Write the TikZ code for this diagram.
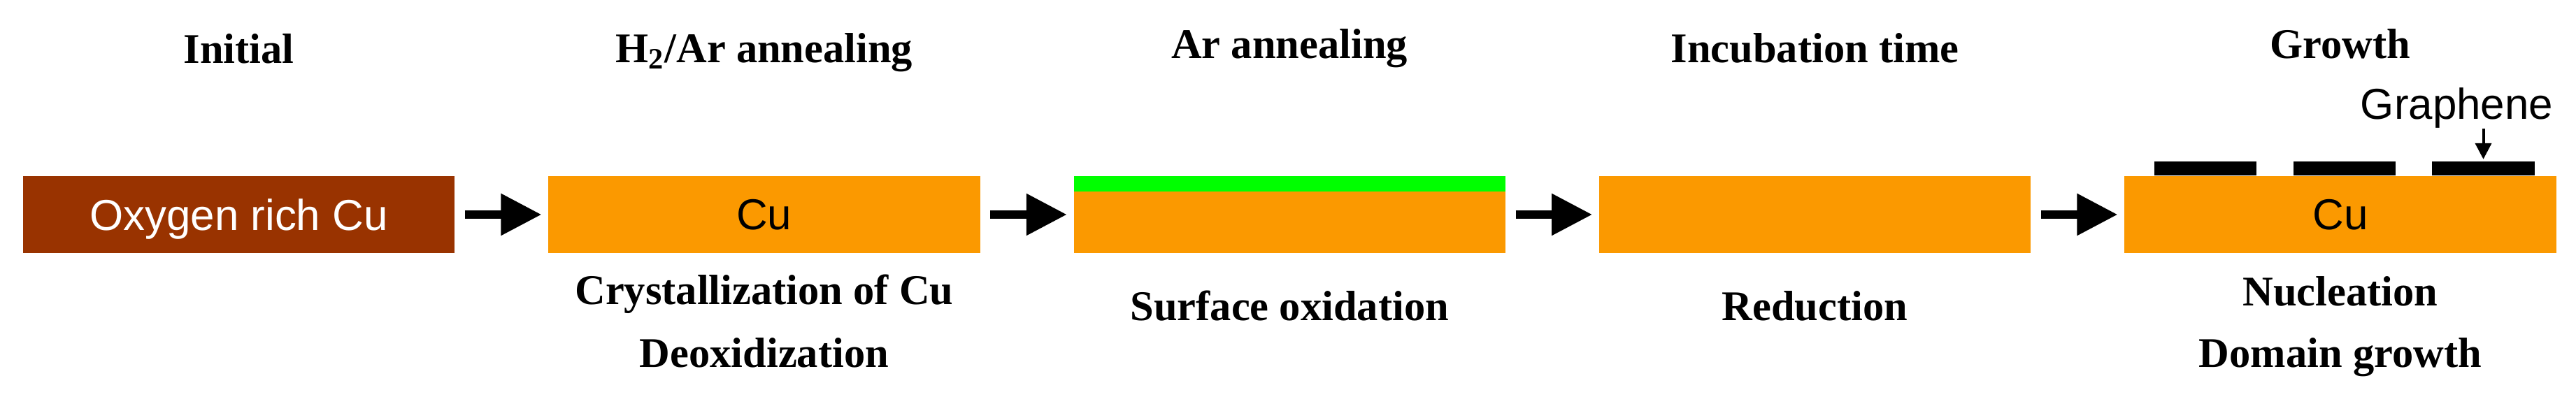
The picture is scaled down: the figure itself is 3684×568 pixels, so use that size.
\documentclass[tikz,border=0pt]{standalone}
\usepackage{fontspec}
\setmainfont{Liberation Serif}
\setsansfont{Liberation Sans}
\usetikzlibrary{arrows.meta,positioning}
\definecolor{oxrich}{RGB}{153,51,0}
\definecolor{copper}{RGB}{251,153,0}
\definecolor{oxide}{RGB}{0,255,0}

\begin{document}
\begin{tikzpicture}[x=0.01cm, y=0.01cm,
    foil/.style={rectangle, fill=copper, minimum width=6.17cm, minimum height=1.1cm, inner sep=0pt, text depth=0pt, font=\sffamily\fontsize{17.6}{20}\selectfont},
    stage/.style={inner sep=0pt, font=\bfseries\fontsize{17.2}{20}\selectfont},
    flow/.style={line width=0.12cm, -{Triangle[length=0.58cm, width=0.57cm]}, shorten <=0.14cm, shorten >=0.09cm},
    flake/.style={rectangle, fill=black, minimum width=1.46cm, minimum height=0.2cm, inner sep=0pt, anchor=south}]
  \useasboundingbox (0,0) rectangle (3684,568);
  % substrates
  \node[foil, fill=oxrich, text=white] (b1) at (341.5,261) {Oxygen rich Cu};
  \node[foil, right=1.325cm of b1] (b2) {Cu};
  \node[foil, right=1.325cm of b2] (b3) {};
  \node[foil, right=1.325cm of b3] (b4) {};
  \node[foil, right=1.325cm of b4] (b5) {Cu};
  \node[rectangle, fill=oxide, minimum width=6.17cm, minimum height=0.22cm, inner sep=0pt, anchor=north] (ox) at (b3.north) {};
  % graphene domains
  \node[flake] (g1) at ([xshift=-1.925cm]b5.north) {};
  \node[flake] (g2) at ([xshift=0.06cm]b5.north) {};
  \node[flake] (g3) at ([xshift=2.045cm]b5.north) {};
  \node[inner sep=0pt, font=\sffamily\fontsize{17.6}{20}\selectfont, above=0.59cm of g3.north, xshift=-0.38cm, anchor=base] (gl) {Graphene};
  \draw[line width=0.04cm, -{Triangle[length=0.23cm, width=0.23cm]}, shorten >=0.02cm] (gl.south -| g3.north) -- (g3.north);
  % steps
  \draw[flow] (b1) -- (b2);
  \draw[flow] (b2) -- (b3);
  \draw[flow] (b3) -- (b4);
  \draw[flow] (b4) -- (b5);
  % titles
  \node[stage, above=1.61cm of b1.north, anchor=base] (t1) {Initial};
  \node[stage, above=1.62cm of b2.north, anchor=base] (t2) {H\textsubscript{2}/Ar annealing};
  \node[stage, above=1.68cm of b3.north, anchor=base] (t3) {Ar annealing};
  \node[stage, above=1.62cm of b4.north, anchor=base] (t4) {Incubation time};
  \node[stage, above=1.68cm of b5.north, anchor=base] (t5) {Growth};
  % what happens
  \node[stage, below=0.73cm of b2.south, anchor=base] (l2a) {Crystallization of Cu};
  \node[stage, below=0.9cm of l2a.base, anchor=base] (l2b) {Deoxidization};
  \node[stage, below=0.96cm of b3.south, anchor=base] (l3) {Surface oxidation};
  \node[stage, below=0.96cm of b4.south, anchor=base] (l4) {Reduction};
  \node[stage, below=0.75cm of b5.south, anchor=base] (l5a) {Nucleation};
  \node[stage, below=0.88cm of l5a.base, anchor=base] (l5b) {Domain growth};
\end{tikzpicture}
\end{document}
